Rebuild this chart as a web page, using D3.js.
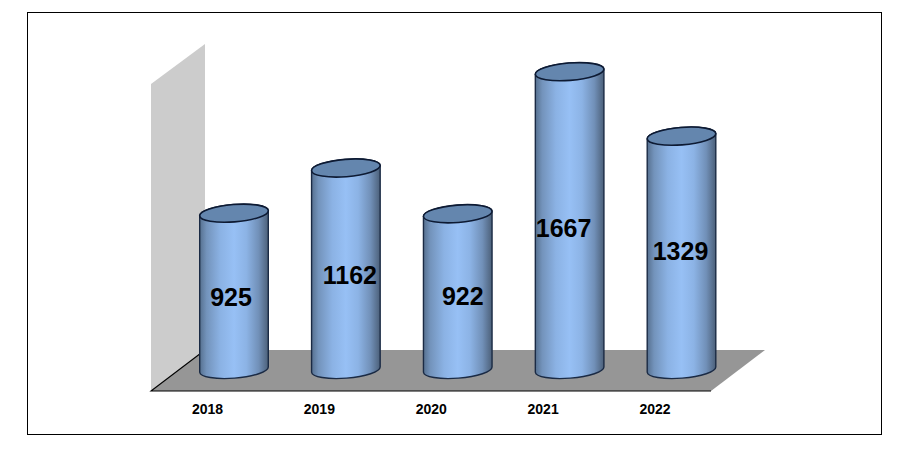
<!DOCTYPE html>
<html><head><meta charset="utf-8">
<script src="https://cdn.jsdelivr.net/npm/d3@7/dist/d3.min.js"></script>
<style>html,body{margin:0;padding:0;background:#fff}svg{display:block}text{font-family:"Liberation Sans",Arial,sans-serif;font-weight:bold;fill:#000}</style>
</head><body><div id="c"></div>
<script>
const years = ["2018","2019","2020","2021","2022"];
const counts = [925,1162,922,1667,1329];
const labelShiftX = [-3,4,5,-6,-1];
const labelShiftY = [0,0,-2,1,-8];

const W=913,H=453;
const svg=d3.select("#c").append("svg").attr("width",W).attr("height",H);
const defs=svg.append("defs");
const grad=defs.append("linearGradient").attr("id","cyl").attr("x1",0).attr("x2",1).attr("y1",0).attr("y2",0);
[[0,"#56708f"],[0.1,"#7393bb"],[0.3,"#8bb2e4"],[0.5,"#97c0f5"],[0.68,"#8cb3e5"],[0.86,"#7190b8"],[1,"#4c6079"]]
 .forEach(([o,c])=>grad.append("stop").attr("offset",o).attr("stop-color",c));

svg.append("rect").attr("x",27.5).attr("y",12.5).attr("width",854).attr("height",422).attr("fill","#fff").attr("stroke","#000");

const x=d3.scalePoint().domain(years).range([207,654.5]);
const y=d3.scaleLinear().domain([0,2000]).range([389.6,8.2]);
const depth=27, baseY=369.5, a=34.4, b=8.7, rot=-4.5;
const dx=a*Math.cos(rot*Math.PI/180), dy=a*Math.sin(rot*Math.PI/180);

// back wall and floor
svg.append("polygon").attr("points","151,391 151,84 205,44 205,350").attr("fill","#cccccc");
svg.append("polygon").attr("points","151,391 205,350 765,350 711,391").attr("fill","#969696");
svg.append("path").attr("d","M205,350L151,391L711,391").attr("fill","none").attr("stroke","#000").attr("stroke-width",1.1);

// axis
const axis=svg.append("g").attr("transform","translate(0,391)")
  .call(d3.axisBottom(x).tickSize(0).tickPadding(13));
axis.select(".domain").remove();
axis.selectAll("text").style("font-family",'"Liberation Sans",Arial,sans-serif').style("font-size","14px").style("font-weight","bold").attr("fill","#000");

// cylinders
const g=svg.selectAll("g.bar").data(years.map((yr,i)=>({yr,v:counts[i],i}))).join("g").attr("class","bar");
g.append("path")
 .attr("d",d=>{const c=x(d.yr)+depth,t=y(d.v);
   return `M${c+dx},${t+dy}L${c+dx},${baseY+dy}A${a},${b},${rot},0,1,${c-dx},${baseY-dy}L${c-dx},${t-dy}A${a},${b},${rot},0,1,${c+dx},${t+dy}Z`;})
 .attr("fill","url(#cyl)").attr("stroke","#1a2a44").attr("stroke-width",1.4);
g.append("ellipse")
 .attr("rx",a).attr("ry",b).attr("fill","#6486ae").attr("stroke","#0d1a33").attr("stroke-width",1.6)
 .attr("transform",d=>`translate(${x(d.yr)+depth},${y(d.v)}) rotate(${rot})`);
g.append("text").attr("text-anchor","middle").attr("dominant-baseline","central")
 .attr("x",d=>x(d.yr)+depth+labelShiftX[d.i])
 .attr("y",d=>(y(d.v)+baseY+8)/2+2+labelShiftY[d.i])
 .attr("font-size",25).text(d=>d.v);
</script></body></html>
